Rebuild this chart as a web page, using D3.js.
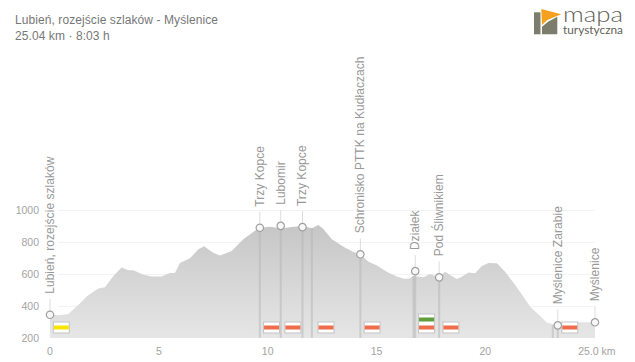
<!DOCTYPE html>
<html>
<head>
<meta charset="utf-8">
<script src="https://cdn.jsdelivr.net/npm/d3@7"></script>
<style>
	html, body { margin: 0; padding: 0; background: #fff; }
	svg { display: block; font-family: "Liberation Sans", Arial, sans-serif; }
</style>
</head>
<body>
<div id="chart"></div>
<script>
const titleLines = ['Lubień, rozejście szlaków - Myślenice', '25.04 km · 8:03 h'];

// elevation profile
const profileKm = [0, 0.4, 0.84, 1.3, 1.71, 2.22, 2.53, 2.91, 3.29, 3.6, 3.83, 4.29, 4.67, 5.13, 5.51, 5.74, 5.97, 6.43, 6.82, 7.08, 7.5, 7.81, 8.35, 8.88, 9.42, 9.64, 10.11, 10.6, 11.1, 11.6, 12.03, 12.33, 12.56, 12.94, 13.48, 13.94, 14.26, 14.63, 15.0, 15.47, 15.93, 16.31, 16.54, 16.7, 17.16, 17.46, 17.85, 18.15, 18.38, 18.69, 18.92, 19.22, 19.53, 19.84, 20.15, 20.53, 20.91, 21.37, 21.75, 22.06, 22.52, 22.83, 23.33, 23.7, 24.28, 25.04];
const profileElev = [345, 342, 350, 406, 462, 510, 517, 587, 641, 623, 623, 595, 585, 585, 606, 606, 668, 698, 754, 773, 733, 715, 744, 817, 870, 889, 896, 885, 893, 900, 886, 906, 881, 818, 771, 737, 723, 677, 654, 614, 585, 569, 573, 587, 579, 600, 579, 614, 594, 569, 583, 610, 604, 650, 669, 667, 614, 531, 458, 396, 337, 295, 279, 282, 298, 298];

const placeNames = ['Lubień, rozejście szlaków', 'Trzy Kopce', 'Lubomir', 'Trzy Kopce', 'Schronisko PTTK na Kudłaczach', 'Działek', 'Pod Śliwnikiem', 'Myślenice Zarabie', 'Myślenice'];
const placeKm = [0, 9.64, 10.6, 11.6, 14.26, 16.78, 17.88, 23.33, 25.04];
const placeElev = [345, 889, 901, 893, 723, 618, 579, 279, 298];

// vertical guides with no marker on them
const extraGuideKm = [12.03, 16.7, 23.1];

const trailKm = [0.52, 10.18, 11.16, 12.68, 14.8, 17.3, 18.42, 23.88];
const trailColors = [['#f7e400'], ['#ef6c4d'], ['#ef6c4d'], ['#ef6c4d'], ['#ef6c4d'], ['#5f9e3c', '#ef6c4d'], ['#ef6c4d'], ['#ef6c4d']];

const xTicks = [0, 5, 10, 15, 20, 25];
const yTicks = [200, 400, 600, 800, 1000];

const width = 635, height = 362;
const margin = {top: 210, right: 40, bottom: 24, left: 50};

const xScale = d3.scaleLinear().domain([0, 25.04]).range([margin.left, width - margin.right]);
const yScale = d3.scaleLinear().domain([200, 1000]).range([height - margin.bottom, margin.top]);

const svg = d3.select('#chart').append('svg')
	.attr('width', width)
	.attr('height', height);

const gradient = svg.append('defs').append('linearGradient')
	.attr('id', 'profile-fill')
	.attr('x1', 0).attr('y1', 0).attr('x2', 0).attr('y2', 1);
gradient.append('stop').attr('offset', '0%').attr('stop-color', '#c6c6c6');
gradient.append('stop').attr('offset', '100%').attr('stop-color', '#e6e6e6');

// title
svg.selectAll('.title-line')
	.data(titleLines)
	.join('text')
	.attr('class', 'title-line')
	.attr('x', 15)
	.attr('y', (d, i) => 24 + i * 16)
	.attr('font-size', 12)
	.attr('letter-spacing', 0.08)
	.attr('fill', '#777')
	.text(d => d);

// grid
svg.selectAll('.grid-line')
	.data(yTicks.filter(d => d > 200))
	.join('line')
	.attr('class', 'grid-line')
	.attr('x1', 58)
	.attr('x2', xScale(25.04))
	.attr('y1', d => yScale(d) + 0.5)
	.attr('y2', d => yScale(d) + 0.5)
	.attr('stroke', '#f3f3f3');

// profile
const profile = profileKm.map((d, i) => [d, profileElev[i]]);
const area = d3.area()
	.x(d => xScale(d[0]))
	.y0(yScale(200))
	.y1(d => yScale(d[1]))
	.curve(d3.curveLinear);

svg.append('path')
	.datum(profile)
	.attr('d', area)
	.attr('fill', 'url(#profile-fill)');

// guides under the markers
svg.selectAll('.guide')
	.data(placeKm.map((d, i) => [d, placeElev[i]]).slice(1, -1))
	.join('line')
	.attr('class', 'guide')
	.attr('x1', d => xScale(d[0]))
	.attr('x2', d => xScale(d[0]))
	.attr('y1', d => yScale(d[1]))
	.attr('y2', yScale(200))
	.attr('stroke', '#b4b4b4')
	.attr('stroke-opacity', 0.5)
	.attr('stroke-width', 2);

svg.selectAll('.extra-guide')
	.data(extraGuideKm)
	.join('line')
	.attr('class', 'extra-guide')
	.attr('x1', d => xScale(d))
	.attr('x2', d => xScale(d))
	.attr('y1', d => yScale(profileElev[d3.bisectLeft(profileKm, d)]))
	.attr('y2', yScale(200))
	.attr('stroke', '#b4b4b4')
	.attr('stroke-opacity', 0.5)
	.attr('stroke-width', 2);

// trail badges
const badge = svg.selectAll('.badge')
	.data(trailKm.map((d, i) => ({km: d, colors: trailColors[i]})))
	.join('g')
	.attr('class', 'badge')
	.attr('transform', d => `translate(${xScale(d.km)},${yScale(200) - 5})`);

badge.append('rect')
	.attr('x', -8)
	.attr('width', 16)
	.attr('y', d => -11 - (d.colors.length - 1) * 8)
	.attr('height', d => 11 + (d.colors.length - 1) * 8)
	.attr('fill', '#fff')
	.attr('stroke', '#c4c4c4')
	.attr('stroke-width', 1);

badge.selectAll('.stripe')
	.data(d => d.colors.map((c, i) => ({c, offset: d.colors.length - 1 - i})))
	.join('rect')
	.attr('class', 'stripe')
	.attr('x', -7.5)
	.attr('width', 15)
	.attr('y', d => -7.5 - d.offset * 8)
	.attr('height', 4)
	.attr('fill', d => d.c);

// stems, markers and labels
const place = svg.selectAll('.place')
	.data(placeNames.map((name, i) => ({name, km: placeKm[i], elev: placeElev[i]})))
	.join('g')
	.attr('class', 'place')
	.attr('transform', d => `translate(${xScale(d.km)},${yScale(d.elev)})`);

place.append('line')
	.attr('y1', -4)
	.attr('y2', -16)
	.attr('stroke', '#ddd');

place.append('circle')
	.attr('r', 3.7)
	.attr('fill', '#f8f8f8')
	.attr('stroke', '#a0a0a0')
	.attr('stroke-width', 1.2);

place.append('text')
	.attr('transform', 'translate(4,-21) rotate(-90)')
	.attr('font-size', 12)
	.attr('letter-spacing', 0.05)
	.attr('fill', '#999')
	.text(d => d.name);

// axes
const xAxis = svg.append('g')
	.attr('class', 'x-axis')
	.attr('font-size', 10.5)
	.attr('fill', '#a3a3a3');
xAxis.selectAll('text')
	.data(xTicks)
	.join('text')
	.attr('x', d => xScale(d))
	.attr('y', 355)
	.attr('text-anchor', d => d === 25 ? 'start' : 'middle')
	.attr('dx', d => d === 25 ? -16 : 0)
	.text(d => d === 25 ? '25.0 km' : d);

const yAxis = svg.append('g')
	.attr('class', 'y-axis')
	.attr('font-size', 10.5)
	.attr('fill', '#a3a3a3');
yAxis.selectAll('text')
	.data(yTicks)
	.join('text')
	.attr('x', 39)
	.attr('y', d => yScale(d) + 4)
	.attr('text-anchor', 'end')
	.text(d => d);

// logo
const logo = svg.append('g').attr('class', 'logo');
logo.append('polygon')
	.attr('points', '534,12.3 540.5,12.3 540.5,34.3 534,34.3')
	.attr('fill', '#7d7d6e');
logo.append('polygon')
	.attr('points', '541.3,9 561.3,14.3 547.3,20 542,25')
	.attr('fill', '#f5a01e');
logo.append('polygon')
	.attr('points', '542,26.7 548,21.7 557.3,16.7 557.3,34.3 542,34.3')
	.attr('fill', '#7d7d6e');
logo.append('text')
	.attr('x', 563).attr('y', 22.3)
	.attr('font-family', 'Lato, "Open Sans", sans-serif')
	.attr('font-size', 21)
	.attr('font-weight', 300)
	.attr('textLength', 60)
	.attr('lengthAdjust', 'spacingAndGlyphs')
	.attr('fill', '#5f5f55')
	.text('mapa');
logo.append('text')
	.attr('x', 563).attr('y', 34.3)
	.attr('font-family', 'Lato, "Open Sans", sans-serif')
	.attr('font-size', 11)
	.attr('textLength', 60)
	.attr('lengthAdjust', 'spacingAndGlyphs')
	.attr('fill', '#5f5f55')
	.text('turystyczna');
</script>
</body>
</html>
